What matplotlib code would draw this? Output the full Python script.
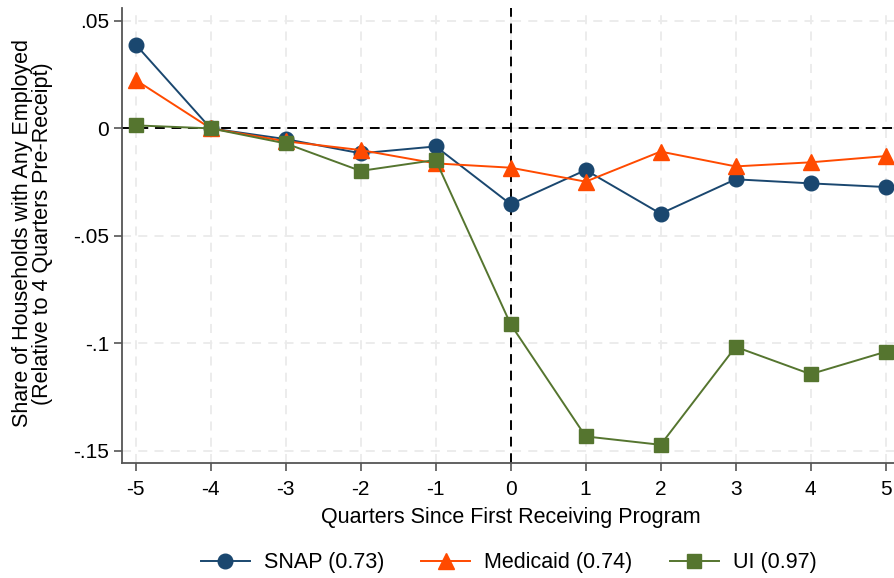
import matplotlib
matplotlib.use("Agg")
import matplotlib.pyplot as plt

quarters = [-5, -4, -3, -2, -1, 0, 1, 2, 3, 4, 5]

snap = [0.039, 0.0, -0.005, -0.0116, -0.0084, -0.0353, -0.0194, -0.0397, -0.0237, -0.0256, -0.0273]
medicaid = [0.0225, 0.0, -0.006, -0.0101, -0.0163, -0.0183, -0.0248, -0.0108, -0.0177, -0.0158, -0.0129]
ui = [0.0014, 0.0, -0.007, -0.0198, -0.0147, -0.0912, -0.1434, -0.1473, -0.1017, -0.1144, -0.104]

series_labels = ["SNAP (0.73)", "Medicaid (0.74)", "UI (0.97)"]
y_ticks = [0.05, 0.0, -0.05, -0.1, -0.15]
y_ticklabels = [".05", "0", "-.05", "-.1", "-.15"]

plt.rcParams["font.family"] = ["Liberation Sans", "DejaVu Sans"]
plt.rcParams["axes.unicode_minus"] = False

fig = plt.figure(figsize=(8.94, 5.78), dpi=100)
ax = fig.add_axes([0.1368, 0.1985, 0.8688, 0.7875])

# grid
for x in quarters:
    ax.axvline(x, color="#ebebeb", lw=1.3, ls=(0, (5, 4)), zorder=0)
for y in y_ticks:
    ax.axhline(y, color="#ebebeb", lw=1.3, ls=(0, (5, 4)), zorder=0)

# reference lines
ax.axhline(0, color="black", lw=1.4, ls=(0, (5, 3.5)), zorder=1)
ax.axvline(0, color="black", lw=1.4, ls=(0, (5, 3.5)), zorder=1)

ax.plot(quarters, snap, color="#1a476f", marker="o", ms=10.5, lw=1.4,
        label=series_labels[0], zorder=3)
ax.plot(quarters, medicaid, color="#ff4a00", marker="^", ms=11, lw=1.4,
        label=series_labels[1], zorder=3)
ax.plot(quarters, ui, color="#55752f", marker="s", ms=10, lw=1.4,
        label=series_labels[2], zorder=3, markeredgecolor="#55752f")

ax.set_xlim(-5.179, 5.179)
ax.set_ylim(-0.1559, 0.056)
ax.set_xticks(quarters)
ax.set_yticks(y_ticks)
ax.set_yticklabels(y_ticklabels)

for side in ["top", "right"]:
    ax.spines[side].set_visible(False)
for side in ["left", "bottom"]:
    ax.spines[side].set_color("#555555")
    ax.spines[side].set_linewidth(1.3)

ax.tick_params(axis="both", colors="#555555", labelcolor="black",
               labelsize=15, length=6, width=1.2)
ax.tick_params(axis="x", pad=6)

ax.set_xlabel("Quarters Since First Receiving Program", fontsize=15.5)
ax.xaxis.set_label_coords(0.5005, -0.1187)
ax.xaxis.label.set_va("center")
ax.set_ylabel("Share of Households with Any Employed\n(Relative to 4 Quarters Pre-Receipt)",
              fontsize=15.5, linespacing=0.95)
ax.yaxis.set_label_coords(-0.116, 0.505)
ax.yaxis.label.set_va("center")

fig.legend(loc="center", bbox_to_anchor=(0.569, 0.0265), ncol=3,
           frameon=False, fontsize=15.5, handlelength=2.28, columnspacing=1.72,
           handletextpad=0.65, borderaxespad=0, borderpad=0)

fig.savefig("out.png", dpi=100)
